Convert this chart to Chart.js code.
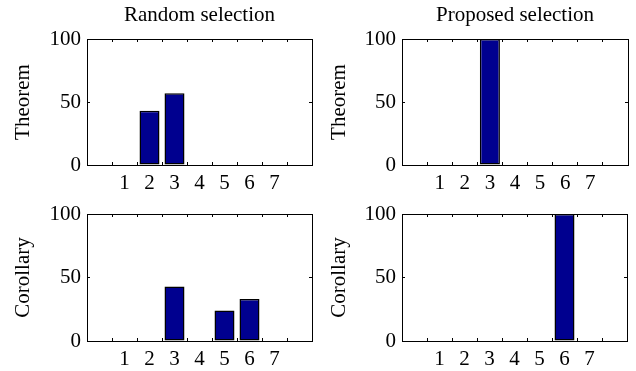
<!DOCTYPE html>
<html>
<head>
<meta charset="utf-8">
<script src="https://cdn.jsdelivr.net/npm/chart.js@4/dist/chart.umd.min.js"></script>
<style>
  html, body { margin: 0; padding: 0; background: #fff; }
  #wrap { position: relative; width: 636px; height: 371px; overflow: hidden; }
  canvas { position: absolute; }
</style>
</head>
<body>
<div id="wrap">
  <canvas id="c1" width="318" height="190" style="left:0px;top:0px;"></canvas>
  <canvas id="c2" width="318" height="190" style="left:318px;top:0px;"></canvas>
  <canvas id="c3" width="318" height="181" style="left:0px;top:190px;"></canvas>
  <canvas id="c4" width="318" height="181" style="left:318px;top:190px;"></canvas>
</div>
<script>
// ---- data ----
const categories = [1, 2, 3, 4, 5, 6, 7];
const yTicks = [0, 50, 100];
const columnTitles = ['Random selection', 'Proposed selection'];
const rowTitles = ['Theorem', 'Corollary'];
const randomTheorem     = [0, 43, 57, 0, 0, 0, 0];
const proposedTheorem   = [0, 0, 100, 0, 0, 0, 0];
const randomCorollary   = [0, 0, 43, 0, 24, 33, 0];
const proposedCorollary = [0, 0, 0, 0, 0, 100, 0];

const FONT = "'Liberation Serif', 'Times New Roman', serif";
const FS = 21;
const BAR = '#00008F';

function makeChart(id, values, rowTitle, colTitle, lay) {
  const ctx = document.getElementById(id);
  const fixW = w => (s => { s.width = w; });
  const fixH = h => (s => { s.height = h; });
  return new Chart(ctx, {
    type: 'bar',
    data: {
      datasets: [{
        data: categories.map((c, i) => ({ x: c, y: values[i] })),
        backgroundColor: BAR,
        borderColor: '#000',
        borderWidth: 1.5,
        borderSkipped: false,
        categoryPercentage: 1,
        barPercentage: 0.8
      }]
    },
    options: {
      responsive: false,
      animation: false,
      devicePixelRatio: 1,
      layout: { padding: { left: 0, right: lay.right, top: lay.top, bottom: 0 } },
      plugins: {
        legend: { display: false },
        tooltip: { enabled: false },
        title: {
          display: !!colTitle,
          text: colTitle || '',
          fullSize: false,
          color: '#000',
          font: { family: FONT, size: FS, weight: 'normal', lineHeight: 1.2 },
          padding: { top: 3, bottom: 10.8 }
        }
      },
      scales: {
        x: {
          type: 'linear', position: 'bottom', min: 0, max: 8,
          afterFit: fixH(lay.xh),
          ticks: {
            stepSize: 1, autoSkip: false, maxRotation: 0, padding: 9,
            color: '#000', font: { family: FONT, size: FS },
            callback: v => categories.includes(v) ? String(v) : ''
          },
          grid: { drawOnChartArea: false, drawTicks: true, tickLength: -3, color: '#000' },
          border: { display: true, color: '#000', width: 1 }
        },
        x2: {
          type: 'linear', position: 'top', min: 0, max: 8,
          afterFit: fixH(0),
          ticks: { stepSize: 1, autoSkip: false, display: false },
          grid: { drawOnChartArea: false, drawTicks: true, tickLength: -3, color: '#000' },
          border: { display: true, color: '#000', width: 1 }
        },
        y: {
          type: 'linear', position: 'left', min: 0, max: 100,
          afterFit: fixW(lay.yw),
          afterBuildTicks: s => { s.ticks = yTicks.map(v => ({ value: v })); },
          ticks: { padding: 9, color: '#000', font: { family: FONT, size: FS } },
          title: {
            display: true, text: rowTitle, color: '#000',
            font: { family: FONT, size: FS, lineHeight: 1.2 },
            padding: { top: lay.tp, bottom: 0 }
          },
          grid: { drawOnChartArea: false, drawTicks: true, tickLength: -3, color: '#000' },
          border: { display: true, color: '#000', width: 1 }
        },
        y2: {
          type: 'linear', position: 'right', min: 0, max: 100,
          afterFit: fixW(0),
          afterBuildTicks: s => { s.ticks = yTicks.map(v => ({ value: v })); },
          ticks: { display: false },
          grid: { drawOnChartArea: false, drawTicks: true, tickLength: -3, color: '#000' },
          border: { display: true, color: '#000', width: 1 }
        }
      }
    }
  });
}

makeChart('c1', randomTheorem, rowTitles[0], columnTitles[0], { right: 6, top: 0, xh: 25, yw: 87, tp: 11 });
makeChart('c2', proposedTheorem, rowTitles[0], columnTitles[1], { right: 8, top: 0, xh: 25, yw: 84, tp: 9 });
makeChart('c3', randomCorollary, rowTitles[1], null, { right: 6, top: 24, xh: 30, yw: 87, tp: 11 });
makeChart('c4', proposedCorollary, rowTitles[1], null, { right: 9, top: 24, xh: 30, yw: 84, tp: 9 });
</script>
</body>
</html>
